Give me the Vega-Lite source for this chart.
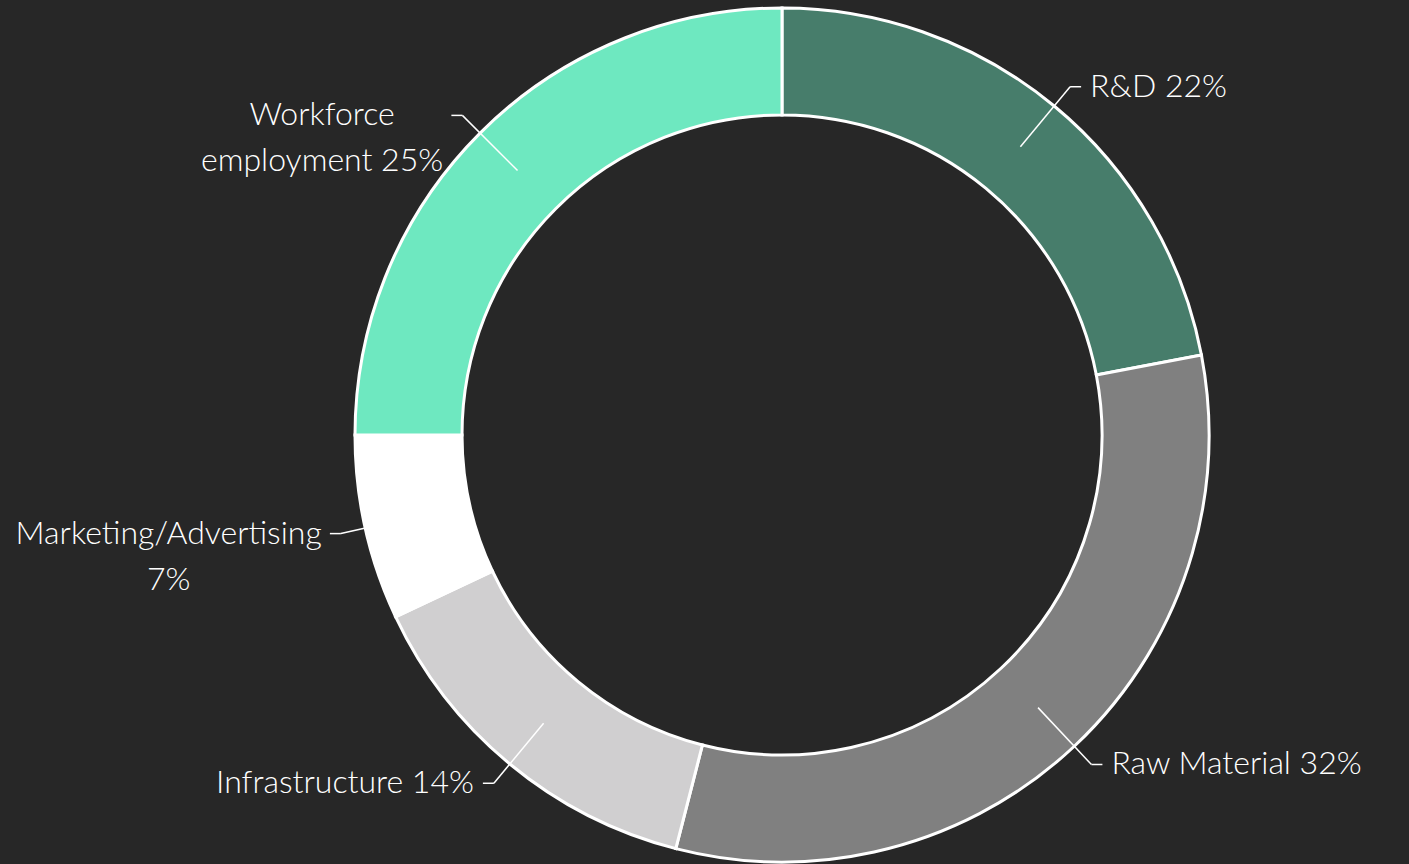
{
  "$schema": "https://vega.github.io/schema/vega-lite/v6.json",
  "width": 1254,
  "height": 858,
  "padding": {"left": 155, "top": 6, "right": 0, "bottom": 0},
  "autosize": {"type": "none"},
  "background": "#272727",
  "config": {"view": {"stroke": null}},
  "data": {"values": [
    {"category": "R&D", "value": 22, "label": "R&D 22%"},
    {"category": "Raw Material", "value": 32, "label": "Raw Material 32%"},
    {"category": "Infrastructure", "value": 14, "label": "Infrastructure 14%"},
    {"category": "Marketing/Advertising", "value": 7, "label": "Marketing/Advertising\n7%"},
    {"category": "Workforce employment", "value": 25, "label": "Workforce\nemployment 25%"}
  ]},
  "transform": [
    {"window": [{"op": "sum", "field": "value", "as": "v1"}], "frame": [null, 0]},
    {"calculate": "datum.v1 - datum.value", "as": "v0"},
    {"calculate": "(datum.v0 + datum.v1) / 200 * 2 * PI", "as": "a"},
    {"calculate": "374 * sin(datum.a)", "as": "x1"},
    {"calculate": "374 * cos(datum.a)", "as": "y1"},
    {"calculate": "452 * sin(datum.a)", "as": "x2"},
    {"calculate": "452 * cos(datum.a)", "as": "y2"},
    {"calculate": "sin(datum.a) > 0 ? 1 : -1", "as": "side"},
    {"calculate": "datum.x2 + datum.side * 11", "as": "x3"},
    {"calculate": "indexof(datum.label, '\\n') >= 0", "as": "multi"},
    {"calculate": "split(datum.label, '\\n')[0]", "as": "l0"},
    {"calculate": "datum.multi ? split(datum.label, '\\n')[1] : ''", "as": "l1"},
    {"calculate": "length(datum.l0) * 18.8 - (length(datum.l0) - length(replace(datum.l0, regexp('[iltfrj/]', 'g'), ''))) * 11.3", "as": "w0"},
    {"calculate": "length(datum.l1) * 18.8 - (length(datum.l1) - length(replace(datum.l1, regexp('[iltfrj/]', 'g'), ''))) * 11.3", "as": "w1"},
    {"calculate": "datum.multi ? datum.x3 + datum.side * (9 + max(datum.w0, datum.w1) / 2) : datum.x3 + datum.side * 9", "as": "tx"}
  ],
  "layer": [
    {
      "mark": {"type": "arc", "outerRadius": 427, "innerRadius": 320, "stroke": "#ffffff", "strokeWidth": 3},
      "encoding": {
        "theta": {"field": "v0", "type": "quantitative", "stack": null, "scale": {"domain": [0, 100]}},
        "theta2": {"field": "v1"},
        "color": {
          "field": "category",
          "type": "nominal",
          "legend": null,
          "scale": {
            "domain": ["R&D", "Raw Material", "Infrastructure", "Marketing/Advertising", "Workforce employment"],
            "range": ["#477d6b", "#808080", "#d0cfd0", "#ffffff", "#6ee8c0"]
          }
        }
      }
    },
    {
      "mark": {"type": "rule", "color": "#ffffff", "strokeWidth": 1.5},
      "encoding": {
        "x": {"field": "x1", "type": "quantitative", "axis": null, "scale": {"domain": [-627, 627], "nice": false, "zero": false}},
        "y": {"field": "y1", "type": "quantitative", "axis": null, "scale": {"domain": [-429, 429], "nice": false, "zero": false}},
        "x2": {"field": "x2"},
        "y2": {"field": "y2"}
      }
    },
    {
      "mark": {"type": "rule", "color": "#ffffff", "strokeWidth": 1.5},
      "encoding": {
        "x": {"field": "x2", "type": "quantitative"},
        "y": {"field": "y2", "type": "quantitative"},
        "x2": {"field": "x3"},
        "y2": {"field": "y2"}
      }
    },
    {
      "transform": [{"filter": "datum.side > 0"}],
      "mark": {"type": "text", "align": "left", "baseline": "middle", "color": "#ffffff", "font": "Lato", "fontWeight": 300, "fontSize": 32, "lineBreak": "\n", "lineHeight": 46},
      "encoding": {
        "x": {"field": "tx", "type": "quantitative"},
        "y": {"field": "y2", "type": "quantitative"},
        "text": {"field": "label"}
      }
    },
    {
      "transform": [{"filter": "datum.side < 0 && !datum.multi"}],
      "mark": {"type": "text", "align": "right", "baseline": "middle", "color": "#ffffff", "font": "Lato", "fontWeight": 300, "fontSize": 32, "lineBreak": "\n", "lineHeight": 46},
      "encoding": {
        "x": {"field": "tx", "type": "quantitative"},
        "y": {"field": "y2", "type": "quantitative"},
        "text": {"field": "label"}
      }
    },
    {
      "transform": [{"filter": "datum.side < 0 && datum.multi"}],
      "mark": {"type": "text", "align": "center", "baseline": "middle", "color": "#ffffff", "font": "Lato", "fontWeight": 300, "fontSize": 32, "lineBreak": "\n", "lineHeight": 46},
      "encoding": {
        "x": {"field": "tx", "type": "quantitative"},
        "y": {"field": "y2", "type": "quantitative"},
        "text": {"field": "label"}
      }
    }
  ]
}
